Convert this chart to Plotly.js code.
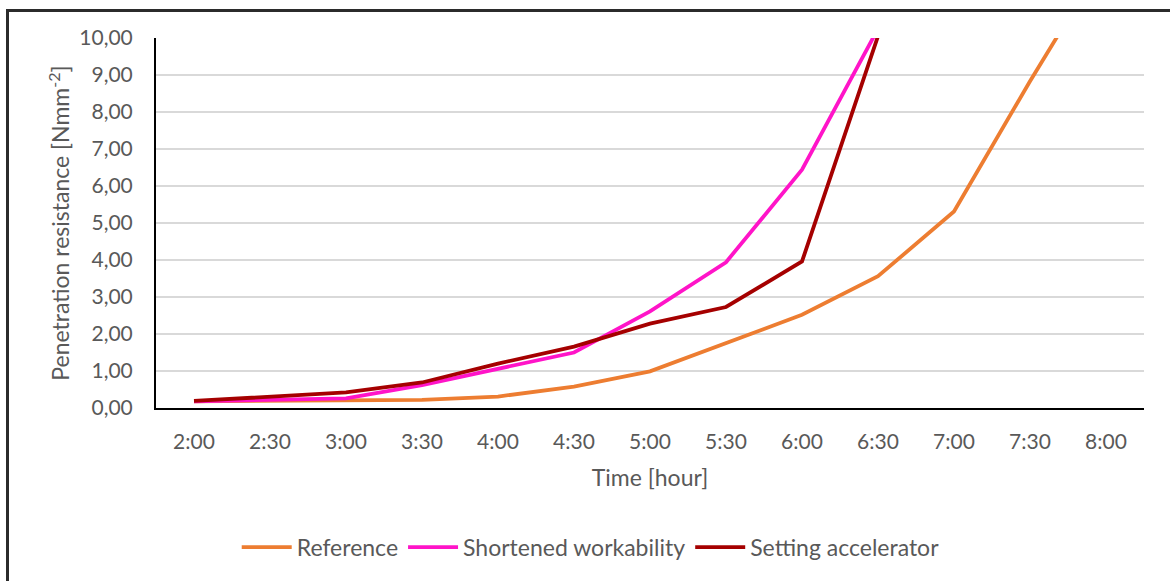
<!DOCTYPE html>
<html>
<head>
<meta charset="utf-8">
<script src="https://cdn.plot.ly/plotly-3.0.1.min.js"></script>
<style>
  html, body { margin: 0; padding: 0; background: #ffffff; }
  #frame { position: absolute; left: 6px; top: 9px; width: 1200px; height: 600px;
           border-left: 3px solid #2b2b2b; border-top: 3px solid #2b2b2b; }
  #chart { position: absolute; left: 0; top: 0; width: 1170px; height: 581px; }
</style>
</head>
<body>
<div id="frame"></div>
<div id="chart"></div>
<script>
const times = ["2:00","2:30","3:00","3:30","4:00","4:30","5:00","5:30","6:00","6:30","7:00","7:30","8:00"];
const referenceVals = [0.18, 0.20, 0.20, 0.22, 0.31, 0.58, 0.99, 1.76, 2.52, 3.56, 5.31, 8.83, 12.2];
const shortenedTimes = ["2:00","2:30","3:00","3:30","4:00","4:30","5:00","5:30","6:00","6:30"];
const shortenedVals = [0.18, 0.22, 0.26, 0.62, 1.05, 1.50, 2.61, 3.94, 6.44, 10.25];
const acceleratorTimes = ["2:00","2:30","3:00","3:30","4:00","4:30","5:00","5:30","6:00","6:30"];
const acceleratorVals = [0.19, 0.30, 0.42, 0.69, 1.20, 1.66, 2.28, 2.73, 3.96, 10.05];
const seriesNames = ["Reference", "Shortened workability", "Setting accelerator"];
const seriesColors = ["#ED7D31", "#FF14C8", "#A50000"];

const font = "Lato, 'Open Sans', sans-serif";
const traces = [
  {x: times, y: referenceVals, name: seriesNames[0]},
  {x: shortenedTimes, y: shortenedVals, name: seriesNames[1]},
  {x: acceleratorTimes, y: acceleratorVals, name: seriesNames[2]}
].map((t, i) => Object.assign(t, {
  type: "scatter", mode: "lines",
  line: {color: seriesColors[i], width: 3.8}
}));

const layout = {
  width: 1170, height: 581,
  paper_bgcolor: "rgba(0,0,0,0)", plot_bgcolor: "rgba(0,0,0,0)",
  separators: ", ",
  margin: {l: 156, r: 26, t: 38, b: 173, pad: 0},
  font: {family: font, size: 21, color: "#595959"},
  showlegend: true,
  legend: {orientation: "h", x: 0.44, xanchor: "center", y: -0.376, yanchor: "middle",
           itemwidth: 50,
           font: {family: font, size: 23, color: "#595959"}, traceorder: "normal"},
  xaxis: {
    type: "category", categoryorder: "array", categoryarray: times,
    range: [-0.5, times.length - 0.5],
    showgrid: false, zeroline: false,
    showline: true, linecolor: "#000000", linewidth: 2,
    ticks: "", ticklabelstandoff: 14,
    tickfont: {family: font, size: 21, color: "#595959"},
    title: {text: "Time [hour]", font: {family: font, size: 23, color: "#595959"}, standoff: 18}
  },
  yaxis: {
    range: [0, 10], dtick: 1, tickformat: ".2f",
    showgrid: true, gridcolor: "#d9d9d9", gridwidth: 1.5,
    zeroline: false,
    showline: true, linecolor: "#000000", linewidth: 2,
    ticks: "", ticklabelstandoff: 17,
    tickfont: {family: font, size: 21, color: "#595959"},
    title: {text: "Penetration resistance [Nmm<sup>-2</sup>]", font: {family: font, size: 23, color: "#595959"}, standoff: 3}
  }
};

Plotly.newPlot("chart", traces, layout, {displayModeBar: false, staticPlot: true});
</script>
</body>
</html>
